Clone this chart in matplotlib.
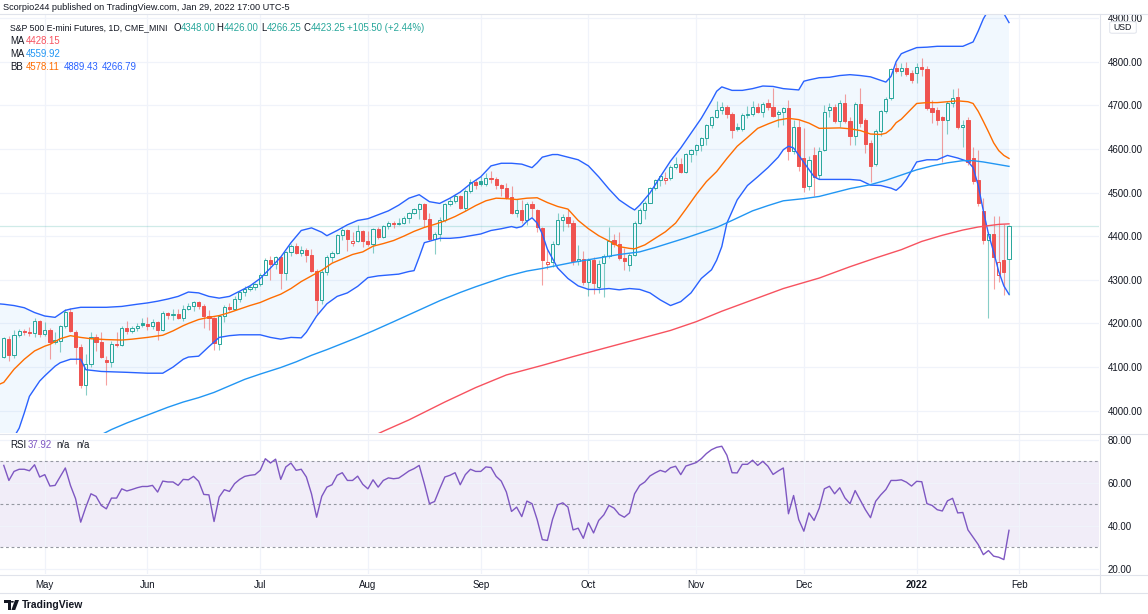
import numpy as np
import pandas as pd
import matplotlib
matplotlib.use("Agg")
import matplotlib.pyplot as plt
from matplotlib.lines import Line2D
from matplotlib.patches import Polygon, Circle, FancyBboxPatch
from matplotlib.transforms import Bbox, TransformedBbox

plt.rcParams['font.family'] = ['Liberation Sans', 'DejaVu Sans']

# ---- data: ES1! daily bars, 2021-04-21 .. 2022-01-28 ----
cme_holidays = ["2021-05-31", "2021-07-05", "2021-09-06", "2021-11-25",
                "2021-12-24", "2022-01-17"]

opens = [
    4124, 4165, 4128, 4174, 4183, 4180, 4177, 4205,
    4176, 4186, 4158, 4160, 4195, 4227, 4180, 4146, 4058, 4106, 4168, 4157, 4117, 4112, 4152, 4150, 4190, 4182, 4189, 4202,
    4198, 4195, 4203, 4186, 4223, 4220, 4221, 4213, 4234, 4241, 4249, 4240, 4217, 4212, 4152, 4216, 4238, 4232, 4257, 4271, 4280, 4283,
    4290, 4312, 4346, 4337, 4352, 4316, 4364, 4378, 4362, 4368, 4356, 4321, 4253, 4318, 4352, 4362, 4403, 4415, 4385, 4390, 4412,
    4389, 4382, 4416, 4398, 4424, 4431, 4427, 4431, 4442, 4454, 4462, 4473, 4440, 4393, 4404, 4437, 4474, 4481, 4492, 4464, 4504, 4524,
    4526, 4520, 4533, 4530, 4517, 4511, 4489, 4453, 4461, 4436, 4474, 4460, 4418, 4336, 4341, 4383, 4438, 4445, 4430, 4342, 4347,
    4294, 4345, 4283, 4338, 4354, 4392, 4383, 4350, 4333, 4356, 4430, 4460, 4477, 4510, 4528, 4528, 4533, 4558, 4565, 4546, 4588,
    4598, 4608, 4625, 4654, 4674, 4688, 4697, 4680, 4650, 4646, 4678, 4680, 4697, 4685, 4705, 4695, 4680, 4685, 4694, 4596, 4651,
    4580, 4516, 4585, 4540, 4598, 4688, 4696, 4663, 4705, 4663, 4630, 4703, 4665, 4614, 4566, 4640, 4686, 4716, 4785, 4778, 4786, 4774,
    4774, 4788, 4784, 4693, 4690, 4673, 4665, 4705, 4718, 4650, 4666, 4580, 4528, 4457, 4391, 4404, 4311, 4345, 4348,
]
highs = [
    4170, 4172, 4186, 4188, 4188, 4192, 4213, 4207,
    4203, 4190, 4180, 4197, 4234, 4236, 4185, 4152, 4130, 4180, 4176, 4180, 4126, 4160, 4180, 4194, 4205, 4194, 4202, 4213,
    4215, 4210, 4206, 4228, 4227, 4232, 4232, 4243, 4246, 4252, 4252, 4245, 4230, 4215, 4218, 4243, 4246, 4262, 4274, 4285, 4287, 4293,
    4315, 4350, 4355, 4355, 4354, 4367, 4382, 4385, 4377, 4372, 4370, 4324, 4325, 4356, 4366, 4406, 4418, 4416, 4410, 4425, 4414,
    4412, 4418, 4420, 4426, 4435, 4434, 4441, 4446, 4456, 4464, 4475, 4475, 4452, 4410, 4443, 4477, 4487, 4496, 4495, 4507, 4530, 4530,
    4538, 4545, 4550, 4535, 4520, 4522, 4514, 4485, 4483, 4478, 4480, 4462, 4420, 4368, 4390, 4452, 4450, 4463, 4436, 4380, 4365,
    4350, 4352, 4345, 4358, 4422, 4405, 4410, 4372, 4362, 4434, 4465, 4480, 4513, 4532, 4540, 4548, 4562, 4582, 4578, 4590, 4600,
    4612, 4628, 4658, 4676, 4709, 4707, 4700, 4684, 4660, 4682, 4698, 4710, 4704, 4708, 4715, 4740, 4690, 4696, 4712, 4665, 4665,
    4648, 4583, 4605, 4605, 4700, 4705, 4702, 4712, 4726, 4672, 4708, 4740, 4670, 4620, 4645, 4688, 4718, 4786, 4797, 4797, 4800, 4780,
    4797, 4808, 4790, 4712, 4697, 4675, 4710, 4738, 4740, 4665, 4672, 4604, 4597, 4487, 4410, 4447, 4446, 4427, 4426,
]
lows = [
    4120, 4115, 4120, 4168, 4174, 4172, 4170, 4168,
    4172, 4118, 4152, 4135, 4190, 4180, 4108, 4052, 4035, 4100, 4136, 4120, 4058, 4100, 4145, 4148, 4175, 4178, 4182, 4193,
    4186, 4188, 4162, 4182, 4210, 4208, 4210, 4205, 4230, 4228, 4232, 4189, 4185, 4140, 4140, 4204, 4228, 4230, 4250, 4264, 4275, 4276,
    4285, 4310, 4300, 4325, 4280, 4300, 4355, 4358, 4355, 4340, 4318, 4222, 4245, 4312, 4340, 4360, 4392, 4365, 4378, 4386, 4375,
    4378, 4362, 4394, 4395, 4416, 4418, 4425, 4428, 4430, 4450, 4440, 4420, 4390, 4358, 4390, 4432, 4470, 4476, 4462, 4458, 4500, 4508,
    4515, 4515, 4522, 4508, 4492, 4486, 4450, 4445, 4430, 4425, 4445, 4410, 4288, 4325, 4330, 4380, 4412, 4420, 4333, 4335, 4288,
    4262, 4268, 4270, 4260, 4350, 4375, 4345, 4322, 4320, 4354, 4428, 4440, 4475, 4505, 4515, 4520, 4528, 4555, 4544, 4544, 4570,
    4585, 4595, 4610, 4648, 4670, 4680, 4670, 4626, 4640, 4640, 4670, 4675, 4682, 4672, 4690, 4672, 4650, 4655, 4575, 4588, 4550,
    4502, 4505, 4493, 4530, 4595, 4672, 4660, 4650, 4660, 4608, 4610, 4650, 4590, 4525, 4560, 4630, 4682, 4712, 4774, 4768, 4768, 4750,
    4750, 4768, 4690, 4660, 4655, 4571, 4635, 4695, 4645, 4605, 4563, 4520, 4470, 4382, 4212, 4280, 4296, 4266, 4266.25,
]
closes = [
    4166, 4128, 4174, 4182, 4180, 4177, 4206, 4176,
    4186, 4158, 4161, 4195, 4226, 4182, 4146, 4058, 4106, 4168, 4157, 4122, 4112, 4153, 4150, 4190, 4182, 4189, 4194, 4197,
    4195, 4203, 4186, 4223, 4220, 4221, 4213, 4234, 4241, 4249, 4240, 4218, 4212, 4155, 4216, 4238, 4232, 4257, 4271, 4280, 4283, 4290,
    4312, 4346, 4337, 4352, 4316, 4364, 4378, 4362, 4368, 4356, 4321, 4253, 4318, 4352, 4362, 4403, 4415, 4393, 4390, 4412, 4389,
    4382, 4416, 4398, 4424, 4431, 4427, 4431, 4442, 4454, 4462, 4473, 4440, 4393, 4404, 4437, 4474, 4481, 4492, 4464, 4504, 4524, 4518,
    4520, 4533, 4530, 4517, 4511, 4489, 4453, 4461, 4436, 4474, 4465, 4422, 4345, 4341, 4383, 4438, 4445, 4430, 4342, 4347, 4294,
    4345, 4292, 4336, 4354, 4390, 4383, 4350, 4343, 4356, 4430, 4460, 4477, 4510, 4528, 4537, 4533, 4558, 4565, 4546, 4588, 4598,
    4608, 4625, 4654, 4674, 4690, 4697, 4680, 4643, 4646, 4678, 4680, 4697, 4685, 4702, 4695, 4676, 4685, 4694, 4596, 4651, 4560,
    4512, 4575, 4535, 4595, 4684, 4695, 4664, 4705, 4663, 4630, 4703, 4660, 4612, 4561, 4640, 4686, 4714, 4783, 4778, 4786, 4772, 4758,
    4788, 4784, 4693, 4685, 4667, 4665, 4704, 4716, 4650, 4655, 4570, 4526, 4476, 4391, 4404, 4352, 4341, 4317.75, 4423.25,
]

rsi = [
    68.1, 61.1, 65.3, 66.3, 66.3, 65.6, 68.4, 62.7,
    63.8, 58.5, 58.8, 62.8, 66.9, 58.8, 52.6, 41.7, 48.7, 54.9,
    53.7, 49.5, 47.9, 52.9, 52.9, 57.2, 56.2, 56.9, 57.7, 58.3,
    58.3, 58.8, 55.7, 60.8, 60.4, 60.4, 58.8, 61.6, 61.4, 63.0,
    60.7, 54.6, 54.4, 42.0, 53.4, 56.8, 56.0, 59.6, 61.6, 63.0,
    63.5, 63.8, 65.8, 71.2, 69.2, 71.0, 61.6, 67.4, 69.2, 65.8,
    66.3, 62.7, 54.9, 44.0, 53.7, 58.0, 59.1, 63.5, 64.7, 61.1,
    61.1, 63.1, 59.3, 57.2, 61.4, 58.0, 61.1, 62.3, 61.9, 62.2,
    63.8, 65.5, 66.6, 68.1, 59.6, 50.3, 51.3, 57.2, 62.7, 63.5,
    64.7, 59.1, 63.8, 66.3, 65.3, 65.3, 67.4, 67.1, 63.0, 60.8,
    55.7, 46.7, 48.7, 44.3, 51.5, 50.3, 42.9, 33.6, 33.2, 43.0,
    49.8, 50.7, 48.7, 38.1, 38.9, 34.2, 41.4, 36.7, 42.5, 45.1,
    49.5, 48.2, 45.3, 44.0, 46.0, 54.9, 58.8, 60.4, 63.2, 64.6,
    65.8, 65.0, 67.0, 67.7, 63.8, 67.8, 68.6, 69.4, 71.2, 73.6,
    75.4, 76.5, 77.0, 72.8, 64.7, 64.6, 68.6, 68.6, 70.5, 68.1,
    70.0, 67.7, 63.9, 65.5, 66.9, 45.6, 54.1, 42.9, 37.5, 46.0,
    42.5, 48.2, 57.2, 58.4, 54.9, 57.7, 53.0, 50.3, 56.4, 51.9,
    47.5, 43.8, 51.4, 54.4, 56.9, 61.1, 61.1, 61.4, 60.3, 58.5,
    60.7, 60.5, 50.3, 49.5, 47.5, 46.9, 51.6, 52.8, 46.0, 46.2,
    38.1, 34.7, 31.3, 26.6, 28.5, 25.9, 25.4, 24.3, 37.92,
]

# indicator lines: (bar number, value)
bb_upper_bar = [-1, 0, 2, 4, 6, 8, 10, 11, 12, 13, 15, 20, 23, 26, 28, 30, 32, 34, 36, 38, 40, 42, 44, 46, 48,
                50, 52, 54, 56, 58, 60, 62, 63, 65, 67, 69, 70, 71, 73, 75, 77, 79, 81, 83, 85, 87, 89, 91, 93,
                95, 97, 99, 101, 103, 104, 105, 107, 108, 110, 112, 114, 116, 118, 120, 122, 123, 124, 126, 128,
                130, 132, 134, 136, 138, 139, 140, 142, 144, 146, 148, 150, 152, 154, 155, 156, 157, 159, 161, 163,
                165, 167, 169, 171, 172, 173, 174, 175, 176, 178, 180, 182, 184, 186, 187, 189, 190, 191, 192, 193,
                194, 195, 196]
bb_upper = [4245, 4244, 4241, 4236, 4225, 4217, 4214, 4222, 4230, 4233, 4237, 4237, 4239, 4244, 4247, 4251, 4256,
            4262, 4272, 4270, 4262, 4258, 4262, 4274, 4286, 4303, 4327, 4352, 4385, 4413, 4419, 4409, 4401, 4413,
            4426, 4436, 4438, 4440, 4449, 4458, 4471, 4487, 4495, 4479, 4475, 4487, 4501, 4520, 4536, 4561, 4567,
            4567, 4565, 4557, 4568, 4581, 4587, 4587, 4581, 4575, 4561, 4536, 4508, 4483, 4467, 4460, 4471, 4499,
            4536, 4572, 4602, 4636, 4670, 4710, 4732, 4742, 4734, 4734, 4738, 4744, 4743, 4738, 4736, 4735, 4755,
            4758, 4763, 4764, 4768, 4770, 4768, 4765, 4757, 4753, 4766, 4800, 4818, 4823, 4832, 4833, 4835, 4835,
            4835, 4835, 4845, 4870, 4898, 4918, 4928, 4925, 4910, 4889.43]
bb_lower_bar = [-1, 2, 3, 4, 5, 7, 8, 10, 11, 12, 13, 15, 16, 19, 24, 28, 31, 33, 35, 36, 38, 40, 42, 44, 46, 50,
                52, 54, 56, 58, 59, 61, 63, 65, 67, 69, 70, 71, 73, 75, 77, 79, 80, 81, 82, 85, 87, 89, 91, 93, 95,
                97, 99, 100, 101, 102, 103, 104, 105, 106, 108, 110, 112, 114, 116, 118, 120, 122, 124, 126, 128,
                130, 132, 134, 136, 138, 139, 140, 141, 143, 145, 147, 149, 151, 152, 153, 154, 156, 158, 159, 165,
                167, 169, 171, 173, 174, 175, 176, 178, 180, 182, 184, 186, 188, 189, 190, 191, 192, 193, 194, 195,
                196]
bb_lower = [3900, 3940, 3960, 3995, 4033, 4068, 4080, 4102, 4110, 4114, 4118, 4118, 4094, 4090, 4088, 4086, 4086,
            4100, 4118, 4123, 4125, 4147, 4168, 4172, 4174, 4174, 4168, 4164, 4168, 4167, 4180, 4217, 4245, 4262,
            4270, 4285, 4295, 4305, 4309, 4311, 4313, 4319, 4321, 4352, 4385, 4395, 4395, 4397, 4401, 4405, 4413,
            4417, 4422, 4419, 4422, 4434, 4442, 4430, 4405, 4370, 4327, 4303, 4286, 4278, 4278, 4280, 4277, 4280,
            4278, 4270, 4254, 4241, 4250, 4270, 4303, 4323, 4345, 4376, 4430, 4483, 4516, 4536, 4557, 4581, 4598,
            4606, 4602, 4569, 4536, 4530, 4530, 4528, 4517, 4516, 4510, 4505, 4515, 4530, 4570, 4575, 4575, 4585,
            4579, 4571, 4557, 4516, 4458, 4405, 4364, 4319, 4286, 4266.79]
bb_basis_bar = [-1, 0, 2, 4, 6, 8, 9, 11, 13, 15, 17, 20, 23, 25, 28, 31, 33, 35, 36, 38, 40, 42, 44, 46, 48, 50,
                52, 54, 56, 58, 60, 62, 64, 66, 68, 70, 72, 74, 76, 78, 80, 82, 84, 86, 88, 90, 92, 94, 96, 98, 100,
                102, 104, 106, 108, 110, 112, 114, 116, 118, 120, 122, 123, 125, 127, 129, 131, 133, 135, 137, 139,
                141, 143, 145, 147, 149, 151, 153, 155, 157, 159, 163, 165, 167, 169, 171, 172, 173, 174, 175, 176,
                178, 180, 182, 184, 186, 188, 189, 190, 191, 192, 193, 194, 195, 196]
bb_basis = [4060, 4065, 4095, 4118, 4137, 4148, 4152, 4165, 4172, 4168, 4165, 4163, 4162, 4164, 4168, 4173, 4183,
            4195, 4200, 4209, 4214, 4218, 4225, 4233, 4241, 4248, 4258, 4267, 4280, 4296, 4309, 4322, 4338, 4348,
            4358, 4364, 4377, 4383, 4390, 4400, 4411, 4420, 4427, 4435, 4445, 4457, 4470, 4481, 4487, 4486, 4484,
            4487, 4488, 4477, 4468, 4462, 4436, 4417, 4401, 4389, 4376, 4372, 4371, 4380, 4395, 4410, 4430, 4462,
            4495, 4525, 4548, 4578, 4606, 4626, 4647, 4657, 4666, 4670, 4667, 4659, 4647, 4648, 4646, 4642, 4634,
            4633, 4636, 4645, 4660, 4668, 4680, 4704, 4706, 4706, 4708, 4710, 4708, 4704, 4686, 4663, 4639, 4614,
            4596, 4585, 4578.11]
ma100_bar = [19, 21, 24, 28, 32, 35, 38, 41, 44, 47, 50, 54, 57, 60, 63, 66, 69, 72, 76, 79, 82, 85, 89, 92, 95,
             98, 102, 105, 108, 111, 114, 117, 120, 124, 127, 130, 133, 136, 139, 142, 146, 149, 152, 156, 159,
             162, 165, 169, 172, 175, 178, 181, 184, 187, 189, 191, 193, 196]
ma100 = [3945, 3957, 3972, 3990, 4008, 4020, 4030, 4042, 4057, 4072, 4084, 4099, 4112, 4127, 4140, 4154, 4168,
         4183, 4204, 4220, 4236, 4252, 4271, 4284, 4296, 4308, 4320, 4326, 4333, 4340, 4346, 4352, 4358, 4364,
         4374, 4385, 4396, 4408, 4420, 4436, 4458, 4470, 4481, 4486, 4491, 4500, 4509, 4518, 4528, 4540, 4552,
         4561, 4568, 4573, 4573, 4570, 4566, 4559.92]
ma200_bar = [72, 74, 79, 86, 92, 98, 105, 111, 117, 124, 130, 135, 140, 146, 152, 159, 165, 170, 175, 179, 183,
             187, 190, 194, 196]
ma200 = [3942, 3953, 3979, 4020, 4053, 4082, 4104, 4124, 4143, 4165, 4184, 4204, 4228, 4254, 4280, 4304, 4330,
         4350, 4369, 4388, 4402, 4414, 4421, 4427, 4428.15]

price_ticks = [4000, 4100, 4200, 4300, 4400, 4500, 4600, 4700, 4800, 4900]
rsi_ticks = [20, 40, 60, 80]

# ---- style ----
DARK = '#131722'
GRID = '#F0F3FA'
BORDER = '#E0E3EB'
UP = '#26A69A'
DOWN = '#EF5350'
BB_LINE = '#2962FF'
BB_MID = '#FF6D00'
MA_RED = '#F7525F'
MA_BLUE = '#2196F3'
RSI_COL = '#7E57C2'

W, H = 1148, 614
fig = plt.figure(figsize=(W / 100, H / 100), dpi=100)


def fx(px):
    return px / W


def fy(py):
    return 1 - py / H


ax = fig.add_axes([0, fy(433), fx(1099), (433 - 14) / H])
axr = fig.add_axes([0, fy(574), fx(1099), (574 - 434) / H], sharex=ax)

n = len(closes)
x = np.arange(n)
days = pd.bdate_range("2021-04-21", "2022-02-01", freq="C", holidays=cme_holidays)
month_pos = [k for k in range(1, len(days)) if days[k].month != days[k - 1].month]
month_lab = [str(days[k].year) if days[k].month == 1 else days[k].strftime("%b") for k in month_pos]

# ---- price pane ----
o, h, l, c = (np.array(v, dtype=float) for v in (opens, highs, lows, closes))
prev = np.r_[o[0], c[:-1]]
col = np.where(c >= prev, UP, DOWN)
top = np.maximum(o, c)
bot = np.minimum(o, c)
hgt = np.maximum(top - bot, 0.9)
face = [cc if cl < op else 'none' for cc, cl, op in zip(col, c, o)]

ax.fill(np.r_[bb_upper_bar, bb_lower_bar[::-1]], np.r_[bb_upper, bb_lower[::-1]],
        color='#2196F3', alpha=0.06, lw=0, zorder=1)
ax.axhline(closes[-1], color=UP, alpha=0.22, lw=0.9, zorder=1.2)

ax.vlines(x, top, h, colors=col, alpha=0.55, lw=0.8, zorder=2)
ax.vlines(x, l, bot, colors=col, alpha=0.55, lw=0.8, zorder=2)
ax.bar(x, hgt, bottom=bot, width=0.62, color=face, edgecolor=col, linewidth=0.7, zorder=2.5)

ax.plot(bb_upper_bar, bb_upper, color=BB_LINE, lw=1.0, zorder=3)
ax.plot(bb_lower_bar, bb_lower, color=BB_LINE, lw=1.0, zorder=3)
ax.plot(bb_basis_bar, bb_basis, color=BB_MID, lw=1.0, zorder=3)
ax.plot(ma100_bar, ma100, color=MA_BLUE, lw=1.0, zorder=3)
ax.plot(ma200_bar, ma200, color=MA_RED, lw=1.0, zorder=3)

ax.set_xlim(-0.735, 213.55)
ax.set_ylim(3949, 4909)
ax.set_yticks(price_ticks)
ax.yaxis.tick_right()
ax.yaxis.set_major_formatter(lambda v, p: f"{v:.2f}")
ax.tick_params(axis='y', length=0, pad=6, labelsize=7, labelcolor=DARK)
ax.tick_params(axis='x', length=0, labelbottom=False)
ax.grid(True, color=GRID, lw=0.9, zorder=0)
ax.set_axisbelow(True)
for s in ax.spines.values():
    s.set_visible(False)

# ---- RSI pane ----
axr.axhspan(30, 70, color=RSI_COL, alpha=0.1, lw=0, zorder=0.5)
for lvl in (70, 50, 30):
    axr.axhline(lvl, color='#9598A1', lw=0.8, dashes=(2.5, 2.5), zorder=1)
axr.plot(x, rsi, color=RSI_COL, lw=1.0, zorder=3)
axr.set_ylim(17.6, 82.7)
axr.set_yticks(rsi_ticks)
axr.yaxis.tick_right()
axr.yaxis.set_major_formatter(lambda v, p: f"{v:.2f}")
axr.tick_params(axis='y', length=0, pad=6, labelsize=7, labelcolor=DARK)
axr.set_xticks(month_pos)
axr.set_xticklabels(month_lab)
axr.tick_params(axis='x', length=0, pad=4, labelsize=7, labelcolor=DARK)
for t in axr.get_xticklabels():
    if t.get_text() == '2022':
        t.set_fontweight('bold')
axr.grid(True, color=GRID, lw=0.9, zorder=0)
axr.set_axisbelow(True)
for s in axr.spines.values():
    s.set_visible(False)

# clip the top price label under the header border
clip = TransformedBbox(Bbox([[0, 0], [1, fy(14)]]), fig.transFigure)
for t in ax.get_yticklabels():
    t.set_clip_box(clip)
    t.set_clip_on(True)

# ---- frame lines ----
for yy in (14, 433.5, 574.5, 592.5):
    fig.add_artist(Line2D([0, 1], [fy(yy), fy(yy)], color=BORDER, lw=0.8))
fig.add_artist(Line2D([fx(1099.5)] * 2, [fy(14), fy(592.5)], color=BORDER, lw=0.8))

fig.add_artist(FancyBboxPatch((fx(1112), fy(32)), fx(22), 9 / H, boxstyle="round,pad=0.002",
                              fc='white', ec=BORDER, lw=0.7, transform=fig.transFigure))
fig.text(fx(1123), fy(27), "USD", fontsize=6.3, color=DARK, ha='center', va='center')

# ---- legend texts ----
rend = fig.canvas.get_renderer()


def text_run(y, x0, pieces, size=6.9):
    xx = x0
    for txt, cc, gap in pieces:
        t = fig.text(fx(xx), fy(y), txt, color=cc, fontsize=size, ha='left', va='center')
        xx += t.get_window_extent(rend).width + gap


fig.text(fx(3), fy(7), "Scorpio244 published on TradingView.com, Jan 29, 2022 17:00 UTC-5",
         fontsize=6.6, color=DARK, ha='left', va='center')

text_run(28, 10, [("S&P 500 E-mini Futures, 1D, CME_MINI", DARK, 0)], size=6.3)
text_run(28, 173, [("O", DARK, 0.5), ("4348.00", UP, 0)])
text_run(28, 216, [("H", DARK, 0.5), ("4426.00", UP, 0)])
text_run(28, 261, [("L", DARK, 0.5), ("4266.25", UP, 0)])
text_run(28, 303, [("C", DARK, 0.5), ("4423.25", UP, 0)])
text_run(28, 347, [("+105.50 (+2.44%)", UP, 0)])

text_run(41, 10, [("MA", DARK, 0)])
text_run(41, 26, [("4428.15", MA_RED, 0)])
text_run(54, 10, [("MA", DARK, 0)])
text_run(54, 26, [("4559.92", MA_BLUE, 0)])
text_run(67, 10, [("BB", DARK, 0)])
text_run(67, 26, [("4578.11", BB_MID, 0)])
text_run(67, 63.5, [("4889.43", BB_LINE, 0)])
text_run(67, 101.5, [("4266.79", BB_LINE, 0)])

text_run(444.5, 10, [("RSI", DARK, 0)])
text_run(444.5, 27.7, [("37.92", RSI_COL, 0)])
text_run(444.5, 56, [("n/a", DARK, 0)])
text_run(444.5, 76, [("n/a", DARK, 0)])

# ---- TradingView mark ----
logo = [Polygon([(fx(4), fy(600)), (fx(10.5), fy(600)), (fx(10.5), fy(610)), (fx(7.5), fy(610)),
                 (fx(7.5), fy(603)), (fx(4), fy(603))], closed=True),
        Circle((fx(12.3), fy(601.8)), 1.6 / W),
        Polygon([(fx(15), fy(600)), (fx(19), fy(600)), (fx(15.2), fy(610)), (fx(11.4), fy(610))], closed=True)]
for p in logo:
    p.set_facecolor(DARK)
    p.set_edgecolor('none')
    p.set_transform(fig.transFigure)
    fig.add_artist(p)
fig.text(fx(22), fy(605), "TradingView", fontsize=7.5, color=DARK, ha='left', va='center', fontweight='bold')

fig.savefig("out.png", dpi=100, facecolor='white')
